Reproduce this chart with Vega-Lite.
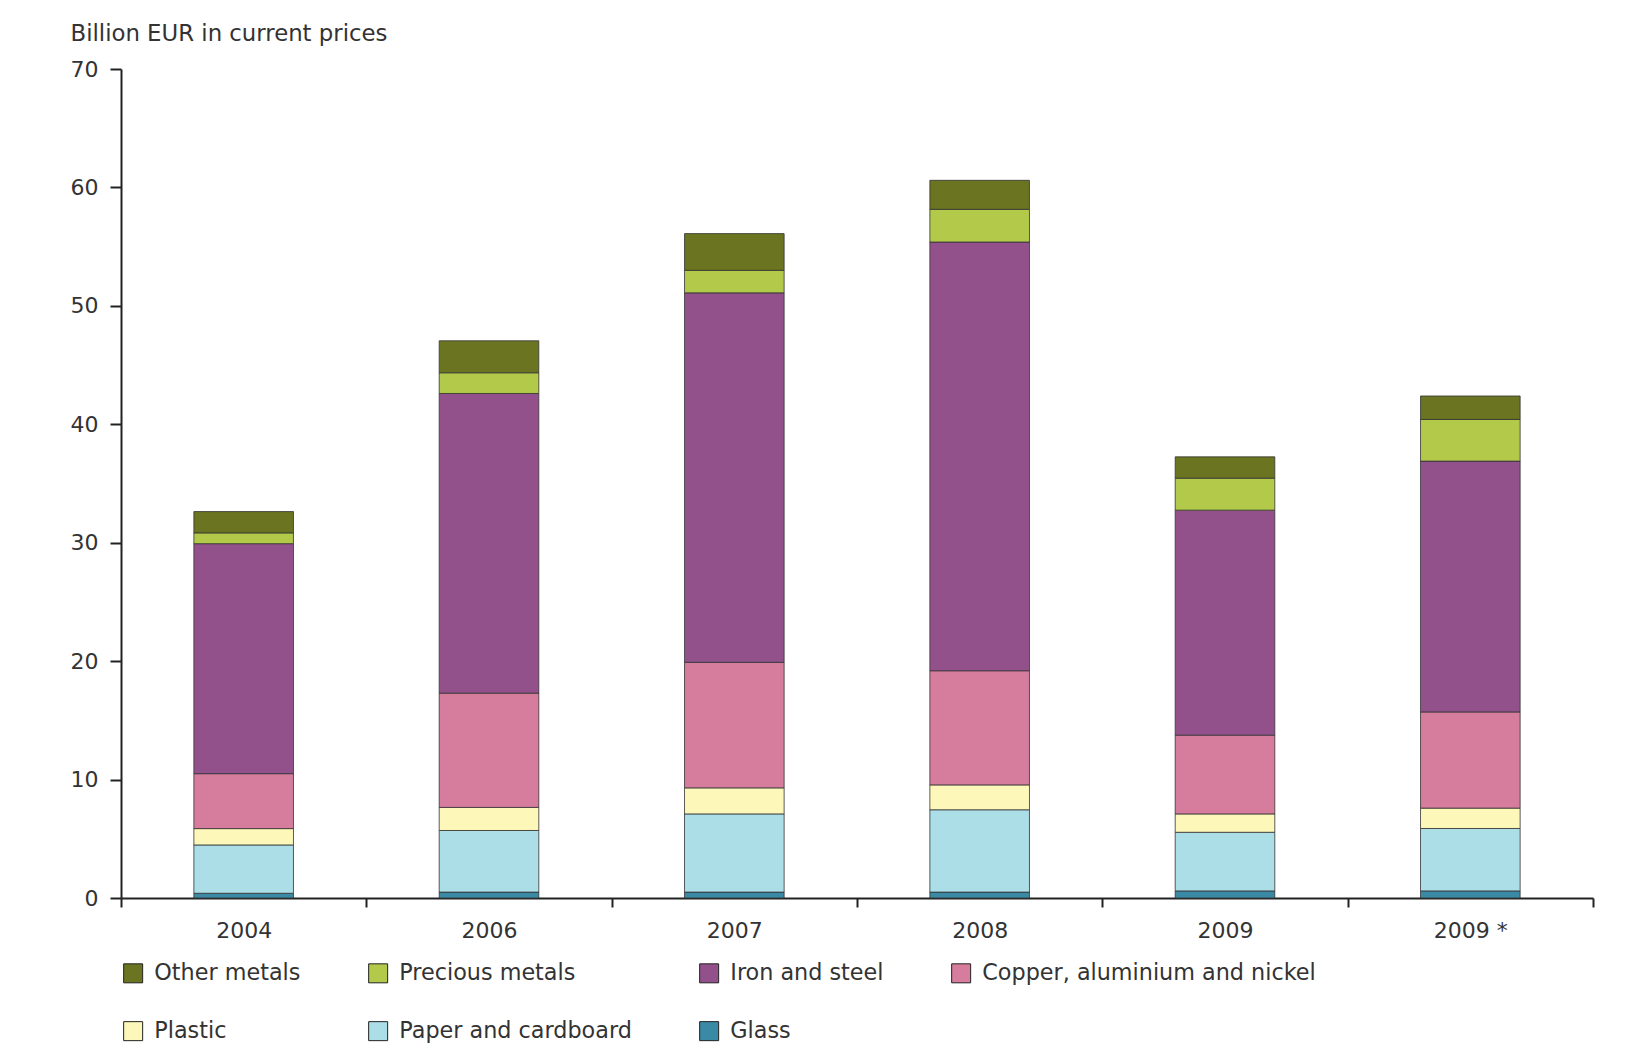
{
  "$schema": "https://vega.github.io/schema/vega-lite/v6.json",
  "autosize": {"type": "none"},
  "width": 1472,
  "height": 829,
  "padding": {"left": 121, "top": 69, "right": 33, "bottom": 159},
  "background": "white",
  "config": {"view": {"stroke": null}, "font": "DejaVu Sans"},
  "data": {
    "values": [
      {"year": "2004", "category": "Glass", "value": 0.4, "order": 1},
      {"year": "2004", "category": "Paper and cardboard", "value": 4.08, "order": 2},
      {"year": "2004", "category": "Plastic", "value": 1.38, "order": 3},
      {"year": "2004", "category": "Copper, aluminium and nickel", "value": 4.64, "order": 4},
      {"year": "2004", "category": "Iron and steel", "value": 19.42, "order": 5},
      {"year": "2004", "category": "Precious metals", "value": 0.91, "order": 6},
      {"year": "2004", "category": "Other metals", "value": 1.8, "order": 7},
      {"year": "2006", "category": "Glass", "value": 0.5, "order": 1},
      {"year": "2006", "category": "Paper and cardboard", "value": 5.2, "order": 2},
      {"year": "2006", "category": "Plastic", "value": 1.95, "order": 3},
      {"year": "2006", "category": "Copper, aluminium and nickel", "value": 9.65, "order": 4},
      {"year": "2006", "category": "Iron and steel", "value": 25.3, "order": 5},
      {"year": "2006", "category": "Precious metals", "value": 1.75, "order": 6},
      {"year": "2006", "category": "Other metals", "value": 2.7, "order": 7},
      {"year": "2007", "category": "Glass", "value": 0.5, "order": 1},
      {"year": "2007", "category": "Paper and cardboard", "value": 6.6, "order": 2},
      {"year": "2007", "category": "Plastic", "value": 2.2, "order": 3},
      {"year": "2007", "category": "Copper, aluminium and nickel", "value": 10.6, "order": 4},
      {"year": "2007", "category": "Iron and steel", "value": 31.2, "order": 5},
      {"year": "2007", "category": "Precious metals", "value": 1.9, "order": 6},
      {"year": "2007", "category": "Other metals", "value": 3.1, "order": 7},
      {"year": "2008", "category": "Glass", "value": 0.5, "order": 1},
      {"year": "2008", "category": "Paper and cardboard", "value": 6.95, "order": 2},
      {"year": "2008", "category": "Plastic", "value": 2.1, "order": 3},
      {"year": "2008", "category": "Copper, aluminium and nickel", "value": 9.64, "order": 4},
      {"year": "2008", "category": "Iron and steel", "value": 36.2, "order": 5},
      {"year": "2008", "category": "Precious metals", "value": 2.76, "order": 6},
      {"year": "2008", "category": "Other metals", "value": 2.45, "order": 7},
      {"year": "2009", "category": "Glass", "value": 0.6, "order": 1},
      {"year": "2009", "category": "Paper and cardboard", "value": 4.95, "order": 2},
      {"year": "2009", "category": "Plastic", "value": 1.55, "order": 3},
      {"year": "2009", "category": "Copper, aluminium and nickel", "value": 6.65, "order": 4},
      {"year": "2009", "category": "Iron and steel", "value": 19.0, "order": 5},
      {"year": "2009", "category": "Precious metals", "value": 2.7, "order": 6},
      {"year": "2009", "category": "Other metals", "value": 1.8, "order": 7},
      {"year": "2009 *", "category": "Glass", "value": 0.6, "order": 1},
      {"year": "2009 *", "category": "Paper and cardboard", "value": 5.27, "order": 2},
      {"year": "2009 *", "category": "Plastic", "value": 1.72, "order": 3},
      {"year": "2009 *", "category": "Copper, aluminium and nickel", "value": 8.12, "order": 4},
      {"year": "2009 *", "category": "Iron and steel", "value": 21.18, "order": 5},
      {"year": "2009 *", "category": "Precious metals", "value": 3.52, "order": 6},
      {"year": "2009 *", "category": "Other metals", "value": 1.98, "order": 7}
    ]
  },
  "mark": {"type": "bar", "stroke": "#333333", "strokeWidth": 0.8, "width": {"band": 0.406}},
  "encoding": {
    "x": {
      "field": "year",
      "type": "nominal",
      "sort": ["2004", "2006", "2007", "2008", "2009", "2009 *"],
      "scale": {"paddingInner": 0, "paddingOuter": 0},
      "axis": {
        "title": null,
        "labelAngle": 0,
        "labelFontSize": 22,
        "labelColor": "#333333",
        "tickBand": "extent",
        "tickSize": 9,
        "tickWidth": 2,
        "tickColor": "#222222",
        "domainColor": "#222222",
        "domainWidth": 2,
        "labelPadding": 13
      }
    },
    "y": {
      "field": "value",
      "type": "quantitative",
      "stack": "zero",
      "scale": {"domain": [0, 70], "nice": false},
      "axis": {
        "values": [0, 10, 20, 30, 40, 50, 60, 70],
        "grid": false,
        "title": "Billion EUR in current prices",
        "titleAngle": 0,
        "titleAlign": "left",
        "titleBaseline": "middle",
        "titleX": -51,
        "titleY": -36,
        "titleFontSize": 22.8,
        "titleFontWeight": "normal",
        "titleColor": "#333333",
        "labelFontSize": 22,
        "labelColor": "#333333",
        "tickSize": 11,
        "tickWidth": 2,
        "tickColor": "#222222",
        "labelPadding": 12,
        "domainWidth": 2,
        "domainColor": "#222222"
      }
    },
    "color": {
      "field": "category",
      "type": "nominal",
      "scale": {
        "domain": ["Other metals", "Precious metals", "Iron and steel", "Copper, aluminium and nickel", "Plastic", "Paper and cardboard", "Glass"],
        "range": ["#6b7420", "#b3c94a", "#93518c", "#d67c9c", "#fdf8b9", "#acdee8", "#3b8aa5"]
      },
      "legend": {
        "title": null,
        "orient": "none",
        "legendX": 1,
        "legendY": 893,
        "direction": "horizontal",
        "columns": 4,
        "symbolType": "square",
        "symbolSize": 361,
        "symbolStrokeColor": "#222222",
        "symbolStrokeWidth": 1,
        "symbolOpacity": 1,
        "labelFontSize": 22.3,
        "labelColor": "#333333",
        "labelLimit": 500,
        "labelOffset": 10,
        "columnPadding": 65,
        "rowPadding": 34
      }
    },
    "order": {"field": "order", "type": "quantitative", "sort": "ascending"}
  }
}
